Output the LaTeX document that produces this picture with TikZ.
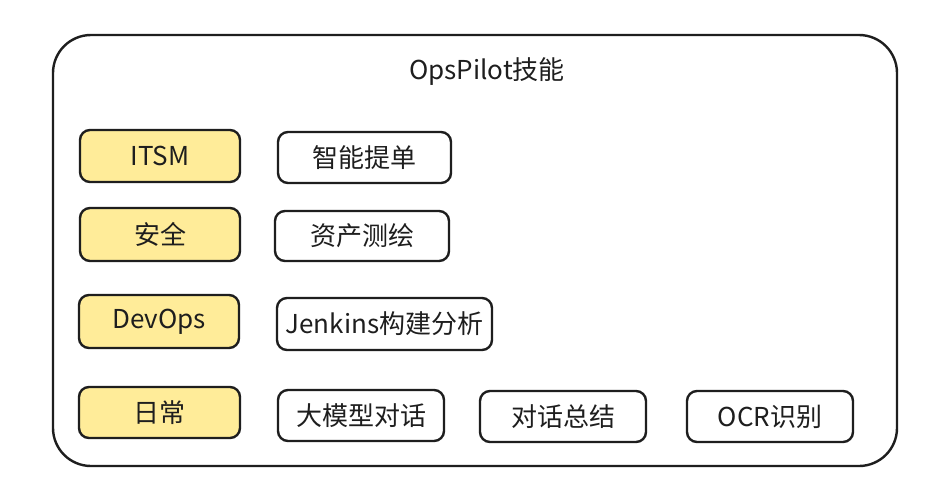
\documentclass[tikz,border=0pt]{standalone}
\usepackage{fontspec}
\setmainfont{Noto Sans CJK SC}
\definecolor{ink}{HTML}{1E1E1E}
\definecolor{yel}{HTML}{FFEC99}
\tikzset{
  box/.style={draw=ink, line width=2.4pt, rounded corners=10pt, inner sep=0pt, text=ink, font=\fontsize{26}{30}\selectfont},
  cat/.style={box, fill=yel},
  skill/.style={box, fill=white},
}
\newcommand{\bx}[7]{%
  \node[#1, minimum width={#5-#3}, minimum height={#6-#4}] (#2) at ({(#3+#5)/2},{(#4+#6)/2}) {#7};}
\begin{document}
\begin{tikzpicture}[x=1pt,y=-1pt]
\useasboundingbox[fill=white] (0,0) rectangle (934,487);
\node[draw=ink, line width=2.4pt, rounded corners=38pt, minimum width=844pt, minimum height=431pt, inner sep=0pt] (frame) at (475,250.5) {};
\node[text=ink, font=\fontsize{26}{30}\selectfont] (title) at (487,72) {OpsPilot技能};
\bx{cat}{itsm}{80}{130}{240}{182}{ITSM}
\bx{cat}{sec}{80}{208}{240}{261}{安全}
\bx{cat}{devops}{79}{295}{239}{348}{DevOps}
\bx{cat}{daily}{79}{387}{240}{438}{日常}
\bx{skill}{ticket}{278}{132}{451}{183}{智能提单}
\bx{skill}{asset}{275}{211}{449}{261}{资产测绘}
\bx{skill}{jenkins}{277}{298}{492}{350}{Jenkins构建分析}
\bx{skill}{llm}{278}{390}{444}{441}{大模型对话}
\bx{skill}{summary}{480}{391}{646}{442}{对话总结}
\bx{skill}{ocr}{687}{391}{853}{442}{OCR识别}
\end{tikzpicture}
\end{document}
